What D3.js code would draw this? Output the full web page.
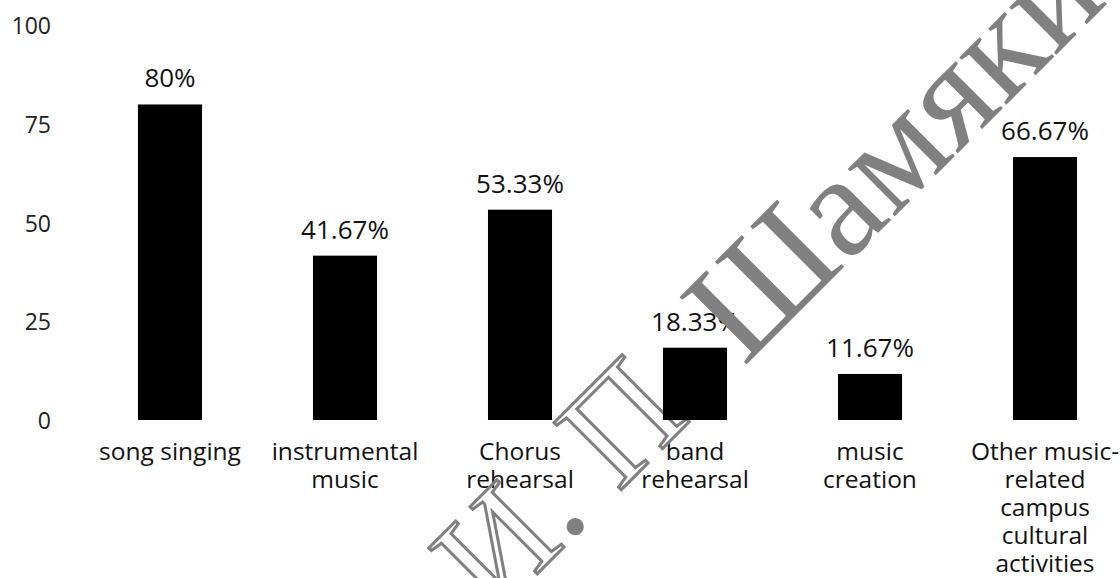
<!DOCTYPE html>
<html>
<head>
  <meta charset="utf-8">
  <title>Music activities</title>
  <script src="https://d3js.org/d3.v7.min.js"></script>
  <style>
    html, body { margin: 0; padding: 0; background: #fff; }
    svg { display: block; }
  </style>
</head>
<body>
  <div id="chart"></div>

  <script>
    // data
    const categories = ["song singing", "instrumental music", "Chorus rehearsal",
      "band rehearsal", "music creation", "Other music-related campus cultural activities"];
    const categoryLines = [
      ["song singing"],
      ["instrumental", "music"],
      ["Chorus", "rehearsal"],
      ["band", "rehearsal"],
      ["music", "creation"],
      ["Other music-", "related", "campus", "cultural", "activities"]
    ];
    const values = [80, 41.67, 53.33, 18.33, 11.67, 66.67];
    const valueLabels = ["80%", "41.67%", "53.33%", "18.33%", "11.67%", "66.67%"];
    const yTicks = [0, 25, 50, 75, 100];
    // watermark pieces: [text, hollow?]
    const watermarkParts = [["И", true], [". ", false], ["П", true], [". ", false], ["Шамякин", false]];

    const width = 1120, height = 578;
    const font = "'Open Sans', 'Noto Sans', sans-serif";

    const svg = d3.select("#chart")
      .append("svg")
      .attr("width", width)
      .attr("height", height);

    const x = d3.scaleBand()
      .domain(categories)
      .range([82.5, 1132.5])
      .paddingInner(0.634)
      .paddingOuter(0.317);

    const y = d3.scaleLinear()
      .domain([0, 100])
      .range([420, 25.6]);

    // y axis labels only, no line, no ticks
    const yAxis = svg.append("g")
      .attr("transform", "translate(51,0)")
      .call(d3.axisLeft(y).tickValues(yTicks).tickSize(0).tickPadding(0));
    yAxis.select(".domain").remove();
    yAxis.selectAll("text")
      .attr("font-family", font)
      .attr("font-size", 23)
      .attr("fill", "#222")
      .attr("dy", "0.36em");

    // value labels
    svg.append("g")
      .selectAll("text")
      .data(values)
      .join("text")
      .attr("x", (d, i) => x(categories[i]) + x.bandwidth() / 2)
      .attr("y", d => y(d) - 17)
      .attr("text-anchor", "middle")
      .attr("font-family", font)
      .attr("font-size", 26)
      .attr("fill", "#111")
      .text((d, i) => valueLabels[i]);

    // category labels, wrapped
    const cat = svg.append("g")
      .selectAll("text")
      .data(categories)
      .join("text")
      .attr("x", d => x(d) + x.bandwidth() / 2)
      .attr("y", 460)
      .attr("text-anchor", "middle")
      .attr("font-family", font)
      .attr("font-size", 24.5)
      .attr("fill", "#111");
    cat.selectAll("tspan")
      .data((d, i) => categoryLines[i])
      .join("tspan")
      .attr("x", function() { return this.parentNode.getAttribute("x"); })
      .attr("dy", (d, i) => i === 0 ? 0 : 28)
      .text(d => d);

    // watermark over the texts, under the bars: initials hollow, rest solid
    svg.append("text")
      .attr("transform", "translate(493,618) rotate(-45)")
      .attr("font-family", "'Liberation Serif', 'DejaVu Serif', serif")
      .attr("font-size", 145)
      .selectAll("tspan")
      .data(watermarkParts)
      .join("tspan")
      .attr("fill", d => d[1] ? "none" : "#808080")
      .attr("stroke", d => d[1] ? "#808080" : "none")
      .attr("stroke-width", 3)
      .text(d => d[0]);

    // bars
    svg.append("g")
      .selectAll("rect")
      .data(values)
      .join("rect")
      .attr("x", (d, i) => x(categories[i]))
      .attr("y", d => y(d))
      .attr("width", x.bandwidth())
      .attr("height", d => y(0) - y(d))
      .attr("fill", "#000");
  </script>
</body>
</html>
